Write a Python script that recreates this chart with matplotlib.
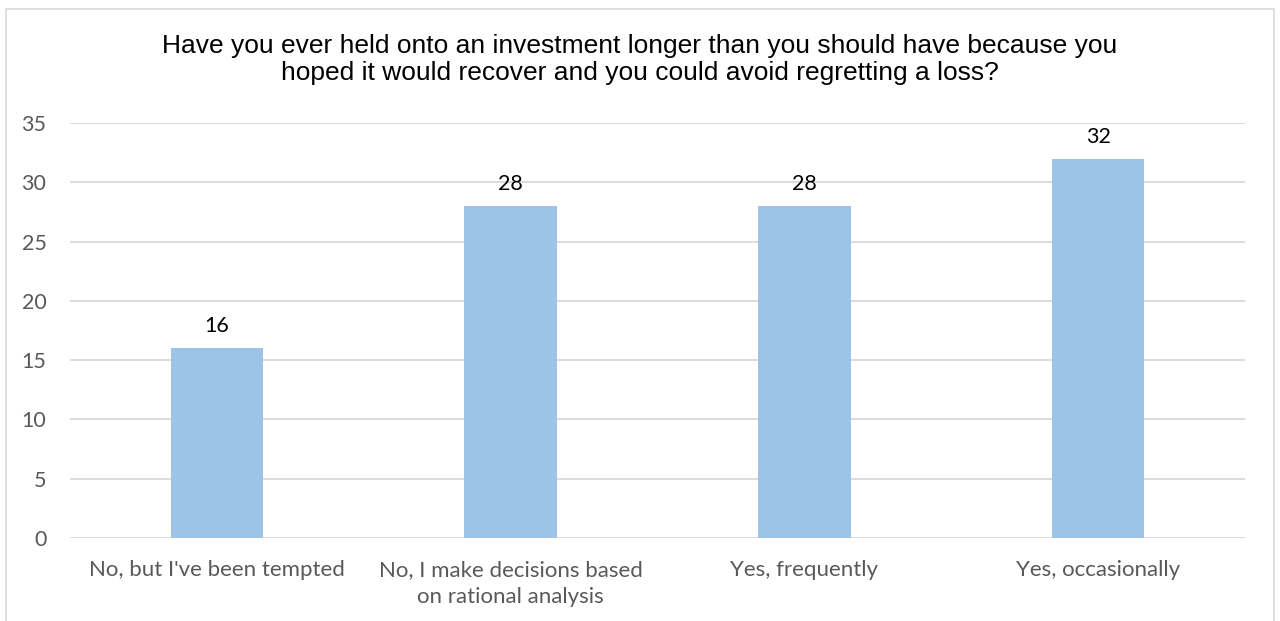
import matplotlib.pyplot as plt
from matplotlib.patches import Rectangle

categories = ["No, but I've been tempted",
              "No, I make decisions based\non rational analysis",
              "Yes, frequently",
              "Yes, occasionally"]
counts = [16, 28, 28, 32]
yticks = [0, 5, 10, 15, 20, 25, 30, 35]
title = ("Have you ever held onto an investment longer than you should have because you\n"
         "hoped it would recover and you could avoid regretting a loss?")

fig = plt.figure(figsize=(12.8, 6.21), dpi=100)
fig.patches.append(Rectangle((6 / 1280, -0.1), 1268 / 1280, 1.1 - 9 / 621,
                             transform=fig.transFigure, fill=False,
                             edgecolor="#D9D9D9", linewidth=1.2))

ax = fig.add_axes([70 / 1280, 1 - 538 / 621, 1175 / 1280, 415 / 621])
x = range(len(categories))
bars = ax.bar(x, counts, width=0.315, color="#9DC3E6", zorder=2)
for b, v in zip(bars, counts):
    ax.text(b.get_x() + b.get_width() / 2, v + 1.35, str(v), ha="center", va="baseline",
            fontsize=15.5, family="Lato", color="black")

ax.set_xlim(-0.5, len(categories) - 0.5)
ax.set_ylim(0, 35)
ax.set_yticks(yticks)
ax.set_xticks(list(x))
ax.set_xticklabels(categories, fontsize=16, family="Lato", color="#595959",
                   linespacing=1.4, va="top")
for lab in ax.get_yticklabels():
    lab.set_fontsize(15.5)
    lab.set_family("Lato")
    lab.set_color("#595959")
ax.tick_params(length=0)
ax.tick_params(axis="x", pad=16)
ax.tick_params(axis="y", pad=17)
ax.grid(axis="y", color="#D9D9D9", linewidth=1.3, zorder=0)
for s in ax.spines.values():
    s.set_visible(False)

fig.text(0.5, 1 - 34 / 621, title, ha="center", va="top", fontsize=19,
         family="Liberation Sans", color="black", linespacing=1.17)

fig.savefig("out.png", dpi=100)
